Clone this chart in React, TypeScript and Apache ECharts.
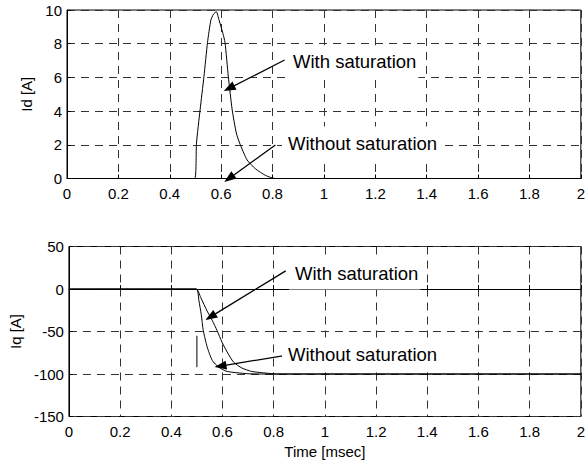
import React, { useEffect, useRef } from "react";
import * as echarts from "echarts";

// Time axis (msec)
const TIME_MIN = 0;
const TIME_MAX = 2;
const TIME_STEP = 0.2;

// d-axis current, with saturation
const idTime = [0, 0.497, 0.504, 0.518, 0.533, 0.547, 0.56, 0.57, 0.581, 0.592, 0.607, 0.615, 0.628, 0.643, 0.659, 0.672, 0.701, 0.734, 0.773, 0.81, 2];
const idWithSat = [0, 0, 2.1, 4.07, 6.04, 8.08, 9.4, 9.75, 9.9, 9.4, 8.6, 8.08, 6.04, 4.07, 2.7, 2.1, 1.1, 0.57, 0.18, 0, 0];
// d-axis current, without saturation
const idTimeNoSat = [0, 2];
const idNoSat = [0, 0];

// q-axis current, with saturation
const iqTime = [0, 0.497, 0.515, 0.54, 0.56, 0.579, 0.598, 0.618, 0.643, 0.676, 0.714, 0.773, 0.81, 2];
const iqWithSat = [0, 0, -10, -26, -37, -49, -62.5, -74, -86, -93, -97, -99, -100, -100];
// q-axis current, without saturation
const iqTimeNoSat = [0, 0.497, 0.508, 0.517, 0.525, 0.54, 0.56, 0.585, 0.618, 0.695, 0.75, 2];
const iqNoSat = [0, 0, -14, -30, -49, -68, -84, -92, -97, -99.6, -100, -100];
// step marker at t = 0.5
const stepTime = [0.5, 0.5];
const stepValue = [-55, -92];

// annotation arrows: [tail, head] in data coordinates
const idArrows = [
  [[0.847, 7.03], [0.631, 5.35]],
  [[0.811, 1.99], [0.631, 0.0]],
];
const iqArrows = [
  [[0.847, 21.3], [0.553, -32.8]],
  [[0.847, -78], [0.592, -90.7]],
];

const FONT = '"Liberation Sans", Arial, Helvetica, sans-serif';

const zip = (xs: number[], ys: number[]) => xs.map((x, i) => [x, ys[i]]);

export default function App() {
  const ref = useRef<HTMLDivElement>(null);

  useEffect(() => {
    if (!ref.current) return;
    const chart = echarts.init(ref.current, undefined, { renderer: "svg" });

    const gridLine = { show: true, lineStyle: { color: "#333", width: 1, type: [8, 6] as any } };
    const axisCommon = {
      type: "value" as const,
      axisLine: { show: true, lineStyle: { color: "#000", width: 1 } },
      axisTick: { show: true, inside: true, length: 4, lineStyle: { color: "#000" } },
      axisLabel: { color: "#000", fontSize: 15, fontFamily: FONT },
      splitLine: gridLine,
    };
    const xAxisCommon = {
      ...axisCommon,
      min: TIME_MIN,
      max: TIME_MAX,
      interval: TIME_STEP,
      axisLabel: { ...axisCommon.axisLabel, margin: 7 },
    };
    const lineSeries = (xi: number, data: number[][], extra: any = {}) => ({
      type: "line",
      xAxisIndex: xi,
      yAxisIndex: xi,
      data,
      showSymbol: false,
      symbol: "none",
      smooth: 0.2,
      lineStyle: { color: "#000", width: 1 },
      z: 3,
      ...extra,
    });
    const arrows = (list: number[][][]) => ({
      silent: true,
      symbol: ["none", "triangle"],
      symbolSize: [9, 12],
      lineStyle: { color: "#000", width: 1.3, type: "solid" },
      itemStyle: { color: "#000" },
      label: { show: false },
      emphasis: { disabled: true },
      data: list.map(([a, b]) => [{ coord: a }, { coord: b }]),
    });
    const note = (text: string, x: number, y: number) => ({
      type: "text",
      x,
      y,
      z: 100,
      style: {
        text,
        font: `18.5px ${FONT}`,
        fill: "#000",
        backgroundColor: "#fff",
        padding: [7, 2, 7, 6],
        verticalAlign: "middle",
        align: "left",
      },
    });

    chart.setOption({
      animation: false,
      backgroundColor: "#fff",
      grid: [
        { left: 67, right: 4, top: 10, height: 168.5, show: true, borderColor: "#000", borderWidth: 1 },
        { left: 67, right: 4, top: 246.5, height: 170, show: true, borderColor: "#000", borderWidth: 1 },
      ],
      xAxis: [
        { ...xAxisCommon, gridIndex: 0 },
        {
          ...xAxisCommon,
          gridIndex: 1,
          name: "Time [msec]",
          nameLocation: "middle",
          nameGap: 27,
          nameTextStyle: { color: "#000", fontSize: 15, fontFamily: FONT },
        },
      ],
      yAxis: [
        {
          ...axisCommon,
          gridIndex: 0,
          min: 0,
          max: 10,
          interval: 2,
          axisLabel: { ...axisCommon.axisLabel, margin: 5 },
          name: "Id [A]",
          nameLocation: "middle",
          nameGap: 28,
          nameTextStyle: { color: "#000", fontSize: 15, fontFamily: FONT },
        },
        {
          ...axisCommon,
          gridIndex: 1,
          min: -150,
          max: 50,
          interval: 50,
          axisLabel: { ...axisCommon.axisLabel, margin: 5 },
          name: "Iq [A]",
          nameLocation: "middle",
          nameGap: 42,
          nameTextStyle: { color: "#000", fontSize: 15, fontFamily: FONT },
        },
      ],
      series: [
        lineSeries(0, zip(idTime, idWithSat), { name: "Id with saturation", markLine: arrows(idArrows) }),
        lineSeries(0, zip(idTimeNoSat, idNoSat), { name: "Id without saturation", smooth: false }),
        lineSeries(1, zip(iqTime, iqWithSat), { name: "Iq with saturation", markLine: arrows(iqArrows) }),
        lineSeries(1, zip(iqTimeNoSat, iqNoSat), { name: "Iq without saturation" }),
        lineSeries(1, zip(stepTime, stepValue), { name: "step", smooth: false }),
      ],
      graphic: [
        note("With saturation", 287, 61.7),
        note("Without saturation", 282, 143),
        note("With saturation", 289, 273),
        note("Without saturation", 282, 354),
      ],
    });

    return () => chart.dispose();
  }, []);

  return (
    <div
      ref={ref}
      style={{ position: "fixed", left: 0, top: 0, width: 588, height: 463, background: "#fff" }}
    />
  );
}
